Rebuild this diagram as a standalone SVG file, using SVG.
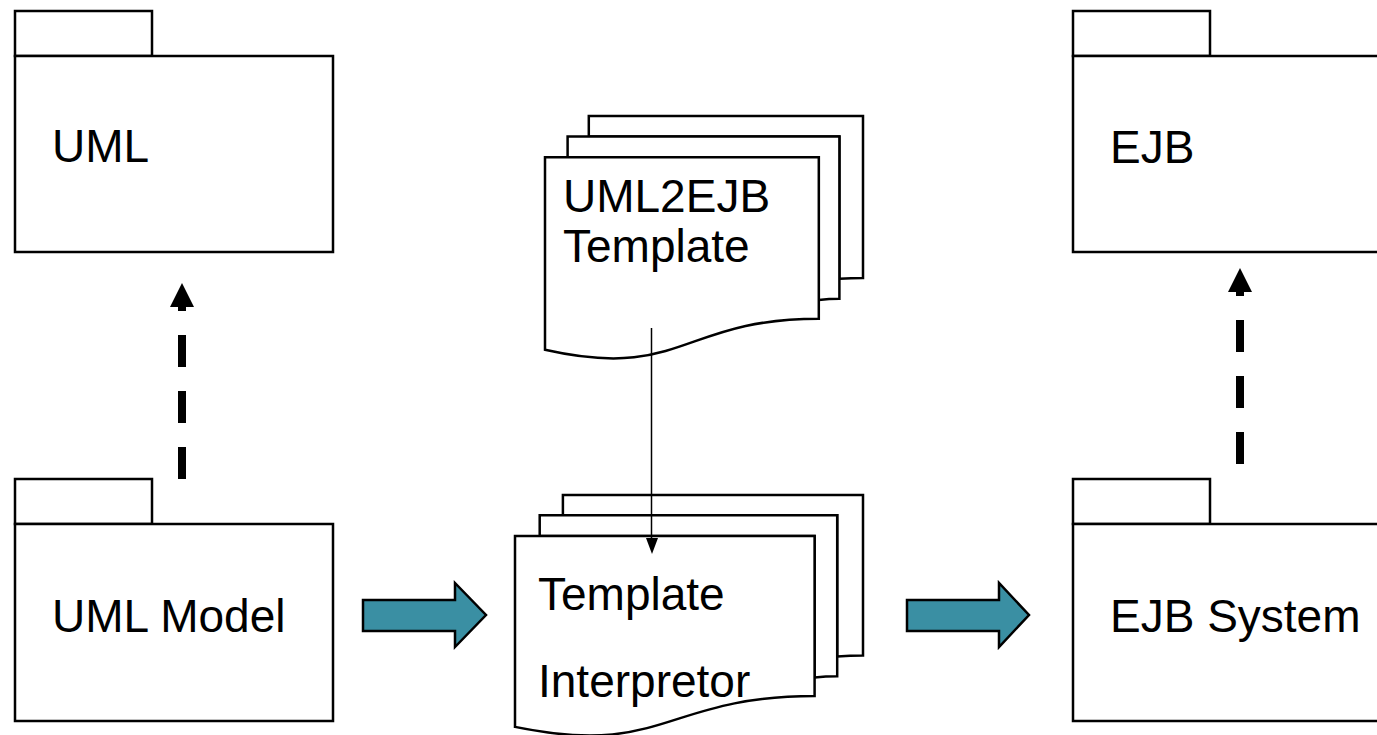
<svg xmlns="http://www.w3.org/2000/svg" width="1377" height="735" viewBox="0 0 1377 735">
<style>
.pk{fill:#fff;stroke:#000;stroke-width:2.5}
.doc{fill:#fff;stroke:#000;stroke-width:2.5;stroke-linejoin:miter}
.lbl{font-family:"Liberation Sans",Arial,sans-serif;font-size:46px;fill:#000}
.blk{fill:#3A8FA3;stroke:#000;stroke-width:2.5;stroke-linejoin:miter}
.dash{fill:none;stroke:#000;stroke-width:8;stroke-dasharray:32 24}
</style>
<rect width="1377" height="735" fill="#fff"/>
<g id="uml">
<rect class="pk" x="15" y="11" width="137" height="45"/>
<rect class="pk" x="15" y="56" width="318" height="196"/>
<text class="lbl" x="52" y="162">UML</text>
</g>
<g id="uml-model">
<rect class="pk" x="15" y="479" width="137" height="45"/>
<rect class="pk" x="15" y="524" width="318" height="197"/>
<text class="lbl" x="52" y="632">UML Model</text>
</g>
<g id="ejb">
<rect class="pk" x="1073" y="11" width="137" height="45"/>
<rect class="pk" x="1073" y="56" width="320" height="196"/>
<text class="lbl" x="1110" y="163">EJB</text>
</g>
<g id="ejb-system">
<rect class="pk" x="1073" y="479" width="137" height="45"/>
<rect class="pk" x="1073" y="524" width="320" height="197"/>
<text class="lbl" x="1110" y="632">EJB System</text>
</g>
<g id="uml2ejb-template">
<path class="doc" d="M588.8,136.4 L588.8,116 L863,116 L863,277.9 C851.2,277.9 839.4,278.8 839.4,278.8 L839.4,136.4 Z"/>
<path class="doc" d="M567.6,157.3 L567.6,136.4 L839.4,136.4 L839.4,298.8 C829.1,298.8 818.8,300 818.8,300 L818.8,157.3 Z"/>
<path class="doc" d="M545,349.8 C681.9,380.8 681.9,318.7 818.8,318.7 L818.8,157.3 L545,157.3 Z"/>
<text class="lbl" x="563" y="212">UML2EJB</text>
<text class="lbl" x="563" y="262">Template</text>
</g>
<g id="template-interpretor">
<path class="doc" d="M562.9,515.3 L562.9,495 L863,495 L863,655.6 C850.1,655.6 837.2,656.4 837.2,656.4 L837.2,515.3 Z"/>
<path class="doc" d="M539.7,536 L539.7,515.3 L837.2,515.3 L837.2,676.3 C825.9,676.3 814.6,677.4 814.6,677.4 L814.6,536 Z"/>
<path class="doc" d="M515,726.9 C664.8,757.7 664.8,696.1 814.6,696.1 L814.6,536 L515,536 Z"/>
<text class="lbl" x="538" y="610">Template</text>
<text class="lbl" x="538" y="697">Interpretor</text>
</g>
<g id="connectors">
<path class="dash" d="M182,479 L182,306"/>
<polygon points="170,307 194,307 182,283" fill="#000"/>
<path class="dash" d="M1240,464 L1240,291"/>
<polygon points="1228,292 1252,292 1240,268" fill="#000"/>
<line x1="651.5" y1="328" x2="651.5" y2="540" stroke="#000" stroke-width="1.5"/>
<polygon points="646,538 658,538 652,554" fill="#000"/>
<polygon class="blk" points="363,600 455,600 455,583 486,615 455,647 455,631 363,631"/>
<polygon class="blk" points="907,600 999,600 999,583 1029,615 999,647 999,631 907,631"/>
</g>
</svg>
